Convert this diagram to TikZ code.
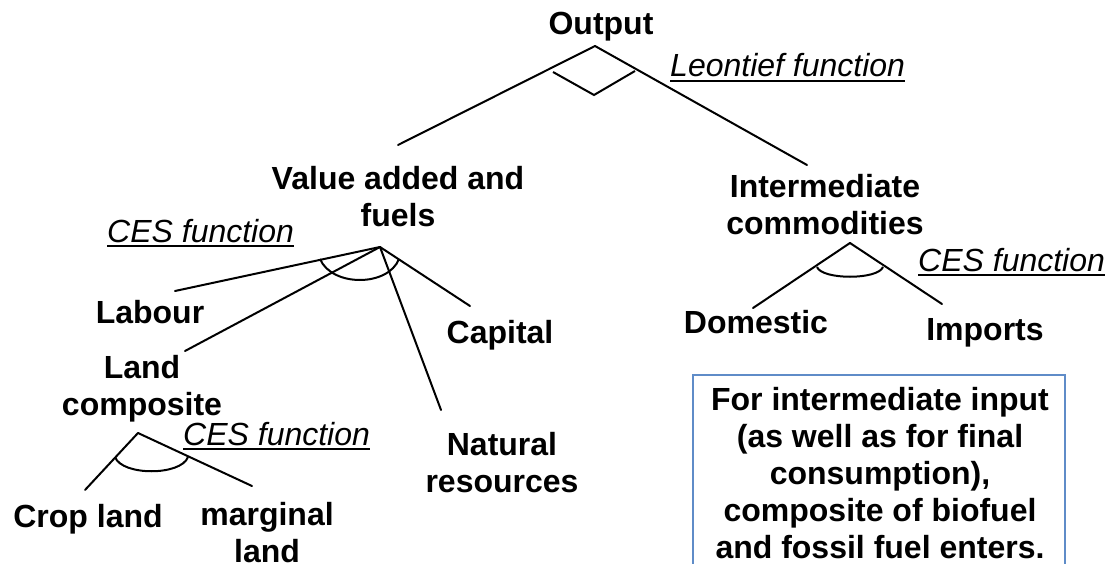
\documentclass[tikz,border=0pt]{standalone}
\usepackage{fontspec}
\setmainfont{Liberation Sans}
\definecolor{boxblue}{RGB}{95,140,200}
\begin{document}
\begin{tikzpicture}[x=1pt,y=-1pt,
  lbl/.style={font=\fontsize{32}{37}\selectfont\bfseries, inner sep=0pt, align=center, anchor=base},
  fn/.style={font=\fontsize{32}{37}\selectfont\itshape, inner sep=0pt, anchor=base west},
  conn/.style={line width=2pt, line cap=round},
  ces/.style={line width=2pt}]
\useasboundingbox (0,0) rectangle (1108,564);
% nodes (multi-line nodes are placed by the baseline of their last line)
\node[lbl] (out) at (601,35) {Output};
\node[lbl] (va) at (398,226) {Value added and\\fuels};
\node[lbl] (int) at (825,234) {Intermediate\\commodities};
\node[lbl] (lab) at (150,323) {Labour};
\node[lbl] (cap) at (500,343) {Capital};
\node[lbl] (land) at (142,415) {Land\\composite};
\node[lbl] (nr) at (502,492) {Natural\\resources};
\node[lbl] (crop) at (88,527) {Crop land};
\node[lbl] (marg) at (267,562) {marginal\\land};
\node[lbl] (dom) at (756,333) {Domestic};
\node[lbl] (imp) at (985,340) {Imports};
% function labels
\node[fn] (leo) at (670,77) {Leontief function};
\node[fn] (ces1) at (107,242) {CES function};
\node[fn] (ces2) at (918,271) {CES function};
\node[fn] (ces3) at (183,445) {CES function};
\foreach \n in {leo,ces1,ces2,ces3}
  \draw[line width=2pt] ([yshift=-4pt]\n.base west) -- ([yshift=-4pt]\n.base east);
% connector coordinates
\coordinate (oA) at (595,46);
\coordinate (vaT) at (398,145);
\coordinate (intT) at (807,165);
\coordinate (vaA) at (380,247);
\coordinate (labE) at (175,291);
\coordinate (landE) at (185,351);
\coordinate (nrE) at (441,410);
\coordinate (capE) at (470,306);
\coordinate (intA) at (850,243);
\coordinate (domE) at (753,308);
\coordinate (impE) at (942,304);
\coordinate (landA) at (138,433);
\coordinate (cropE) at (85,490);
\coordinate (margE) at (252,486);
% connectors
\draw[conn] (oA) -- (vaT);
\draw[conn] (oA) -- (intT);
\foreach \e in {labE,landE,nrE,capE} \draw[conn] (vaA) -- (\e);
\foreach \e in {domE,impE} \draw[conn] (intA) -- (\e);
\foreach \e in {cropE,margE} \draw[conn] (landA) -- (\e);
% function symbols
\draw[ces] (553,72) -- (594,95) -- (635,71);
\draw[ces] (320,259) .. controls (332,287) and (388,287) .. (399,259);
\draw[ces] (817,267) .. controls (822,280) and (878,280) .. (883,267);
\draw[ces] (115,457) .. controls (122,476) and (181,476) .. (188,457);
% note box
\draw[boxblue, line width=2pt] (693,580) -- (693,375) -- (1065,375) -- (1065,580);
\node[lbl] (note) at (880,558) {For intermediate input\\(as well as for final\\consumption),\\composite of biofuel\\and fossil fuel enters.};
\end{tikzpicture}
\end{document}
